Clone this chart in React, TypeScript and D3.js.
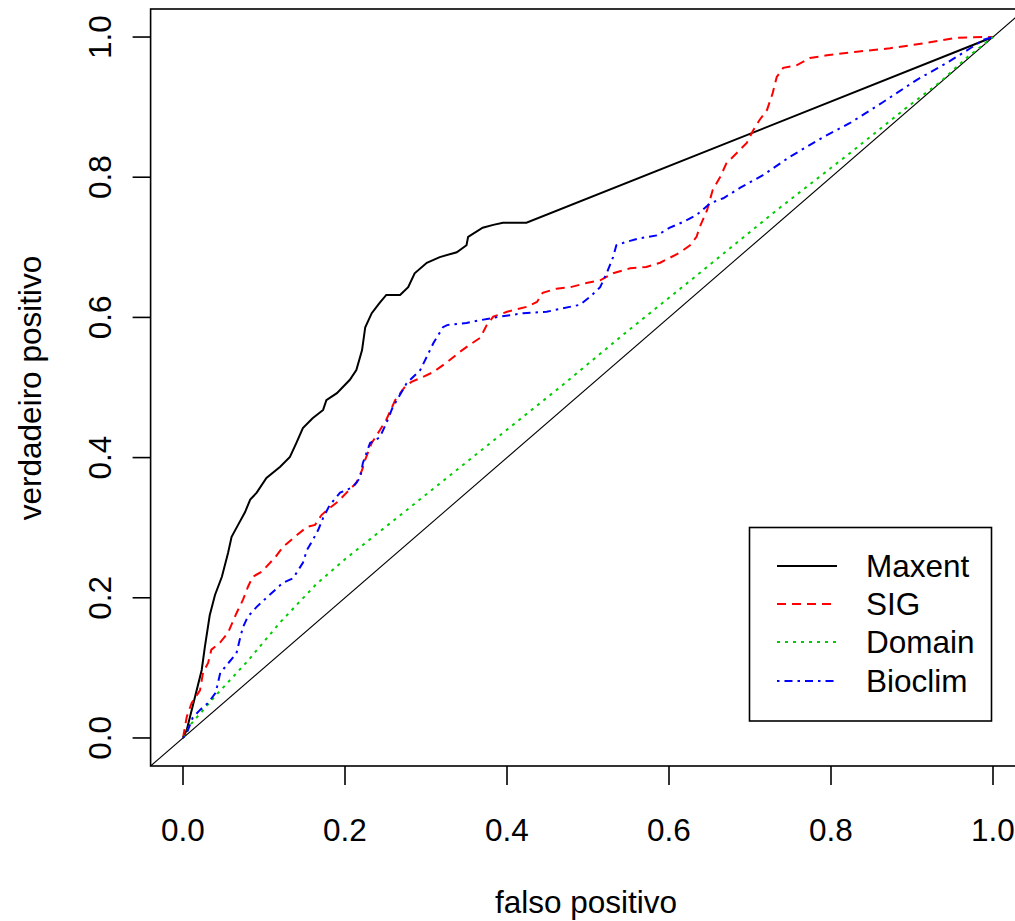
import React from "react";
import * as d3 from "d3";

const xTicks = [0, 0.2, 0.4, 0.6, 0.8, 1.0];
const yTicks = [0, 0.2, 0.4, 0.6, 0.8, 1.0];
const tickLabels = ["0.0", "0.2", "0.4", "0.6", "0.8", "1.0"];

const maxentFpr = [0, 0.0046, 0.0148, 0.0231, 0.027, 0.033, 0.0395, 0.048, 0.0556, 0.06, 0.068, 0.0765, 0.083, 0.091, 0.103, 0.12, 0.132, 0.14, 0.148, 0.16, 0.173, 0.177, 0.19, 0.206, 0.214, 0.221, 0.225, 0.233, 0.243, 0.251, 0.268, 0.278, 0.286, 0.301, 0.317, 0.338, 0.35, 0.352, 0.37, 0.383, 0.395, 0.424, 1];
const maxentTpr = [0, 0.0114, 0.0585, 0.097, 0.13, 0.175, 0.204, 0.23, 0.264, 0.287, 0.304, 0.322, 0.34, 0.35, 0.371, 0.387, 0.401, 0.421, 0.442, 0.456, 0.468, 0.482, 0.492, 0.511, 0.525, 0.553, 0.586, 0.606, 0.621, 0.632, 0.632, 0.643, 0.663, 0.678, 0.686, 0.693, 0.703, 0.715, 0.728, 0.732, 0.735, 0.735, 1];

const sigFpr = [0, 0.0046, 0.0107, 0.021, 0.0247, 0.031, 0.035, 0.0457, 0.0556, 0.066, 0.074, 0.08, 0.086, 0.097, 0.114, 0.123, 0.136, 0.153, 0.163, 0.171, 0.181, 0.191, 0.202, 0.214, 0.221, 0.225, 0.233, 0.243, 0.251, 0.262, 0.274, 0.282, 0.296, 0.309, 0.326, 0.342, 0.354, 0.367, 0.375, 0.383, 0.4, 0.424, 0.437, 0.444, 0.461, 0.478, 0.498, 0.515, 0.531, 0.552, 0.572, 0.589, 0.601, 0.614, 0.626, 0.634, 0.638, 0.647, 0.654, 0.663, 0.671, 0.684, 0.696, 0.704, 0.712, 0.721, 0.728, 0.733, 0.741, 0.758, 0.774, 0.795, 0.832, 0.873, 0.914, 0.955, 0.988, 1];
const sigTpr = [0, 0.03, 0.05, 0.068, 0.093, 0.107, 0.126, 0.136, 0.15, 0.178, 0.197, 0.215, 0.23, 0.237, 0.258, 0.272, 0.285, 0.301, 0.304, 0.318, 0.328, 0.337, 0.35, 0.364, 0.382, 0.397, 0.421, 0.439, 0.454, 0.482, 0.501, 0.508, 0.515, 0.522, 0.536, 0.551, 0.561, 0.571, 0.589, 0.601, 0.608, 0.615, 0.622, 0.635, 0.641, 0.643, 0.649, 0.653, 0.663, 0.67, 0.672, 0.678, 0.685, 0.693, 0.703, 0.715, 0.729, 0.753, 0.782, 0.8, 0.82, 0.835, 0.849, 0.867, 0.882, 0.896, 0.92, 0.943, 0.956, 0.96, 0.97, 0.974, 0.979, 0.984, 0.991, 0.999, 1.0, 1];

const domainFpr = [0, 0.01, 0.04, 0.08, 0.12, 0.165, 0.2, 0.276, 0.465, 0.543, 0.63, 0.733, 0.823, 0.893, 0.935, 0.967, 1];
const domainTpr = [0, 0.02, 0.06, 0.11, 0.165, 0.22, 0.255, 0.325, 0.5, 0.575, 0.656, 0.753, 0.834, 0.899, 0.936, 0.97, 1];

const bioclimFpr = [0, 0.006, 0.012, 0.021, 0.031, 0.04, 0.042, 0.046, 0.054, 0.066, 0.07, 0.074, 0.08, 0.091, 0.103, 0.123, 0.136, 0.148, 0.153, 0.16, 0.167, 0.173, 0.181, 0.194, 0.21, 0.219, 0.222, 0.231, 0.243, 0.251, 0.259, 0.276, 0.293, 0.301, 0.309, 0.321, 0.326, 0.35, 0.367, 0.391, 0.42, 0.449, 0.469, 0.49, 0.502, 0.515, 0.523, 0.531, 0.535, 0.548, 0.564, 0.585, 0.601, 0.617, 0.634, 0.651, 0.667, 0.688, 0.716, 0.749, 0.79, 0.823, 0.864, 0.906, 0.943, 0.972, 0.988, 1];
const bioclimTpr = [0, 0.011, 0.029, 0.04, 0.05, 0.064, 0.073, 0.093, 0.104, 0.121, 0.14, 0.158, 0.173, 0.187, 0.2, 0.221, 0.228, 0.25, 0.268, 0.282, 0.297, 0.314, 0.332, 0.35, 0.358, 0.372, 0.392, 0.421, 0.429, 0.449, 0.472, 0.506, 0.525, 0.544, 0.563, 0.586, 0.589, 0.592, 0.596, 0.601, 0.606, 0.608, 0.613, 0.618, 0.629, 0.643, 0.663, 0.686, 0.703, 0.708, 0.713, 0.717, 0.728, 0.736, 0.746, 0.763, 0.77, 0.785, 0.803, 0.829, 0.857, 0.877, 0.907, 0.939, 0.963, 0.984, 0.996, 1];

const seriesNames = ["Maxent", "SIG", "Domain", "Bioclim"];
const seriesColors = ["#000000", "#FF0000", "#00CD00", "#0000FF"];
const seriesDash = ["none", "9,6", "3,5", "2.5,5,8,5"];

const W = 1015;
const H = 921;
const FONT = "'Liberation Sans', Arial, Helvetica, sans-serif";
const FS = 31.5;

export default function App() {
  const x = d3.scaleLinear().domain([-0.04, 1.04]).range([150.6, 1025.4]);
  const y = d3.scaleLinear().domain([-0.04, 1.04]).range([766, 9]);
  const line = d3
    .line<[number, number]>()
    .x((d) => x(d[0]))
    .y((d) => y(d[1]))
    .curve(d3.curveLinear);

  const series = [
    [maxentFpr, maxentTpr],
    [sigFpr, sigTpr],
    [domainFpr, domainTpr],
    [bioclimFpr, bioclimTpr],
  ].map(([fx, fy]) => fx.map((v, i) => [v, fy[i]] as [number, number]));

  const x0 = x(-0.04);
  const x1 = x(1.04);
  const y0 = y(-0.04);
  const y1 = y(1.04);

  const legend = { left: 749.5, top: 527.5, right: 991.5, bottom: 721 };
  const legendRows = [566, 604, 642, 681];

  return (
    <svg
      width={W}
      height={H}
      style={{ position: "absolute", left: 0, top: 0, background: "#fff" }}
      fontFamily={FONT}
    >
      <defs>
        <clipPath id="plotClip">
          <rect x={x0} y={y1} width={x1 - x0} height={y0 - y1} />
        </clipPath>
      </defs>
      <rect x={0} y={0} width={W} height={H} fill="#fff" />
      <g clipPath="url(#plotClip)">
        <path
          d={line([
            [-0.04, -0.04],
            [1.04, 1.04],
          ]) || ""}
          fill="none"
          stroke="#000"
          strokeWidth={1.1}
        />
        {series.map((s, i) => (
          <path
            key={seriesNames[i]}
            d={line(s) || ""}
            fill="none"
            stroke={seriesColors[i]}
            strokeWidth={2}
            strokeDasharray={seriesDash[i]}
            strokeLinejoin="miter"
          />
        ))}
      </g>
      <rect
        x={x0}
        y={y1}
        width={x1 - x0}
        height={y0 - y1}
        fill="none"
        stroke="#000"
        strokeWidth={1.6}
      />
      {xTicks.map((t, i) => (
        <g key={"xt" + i}>
          <line x1={x(t)} x2={x(t)} y1={y0} y2={y0 + 19} stroke="#000" strokeWidth={1.6} />
          <text x={x(t)} y={841} textAnchor="middle" fontSize={FS} fill="#000">
            {tickLabels[i]}
          </text>
        </g>
      ))}
      {yTicks.map((t, i) => (
        <g key={"yt" + i}>
          <line x1={x0} x2={x0 - 18} y1={y(t)} y2={y(t)} stroke="#000" strokeWidth={1.6} />
          <text
            transform={`translate(111,${y(t)}) rotate(-90)`}
            textAnchor="middle"
            fontSize={FS}
            fill="#000"
          >
            {tickLabels[i]}
          </text>
        </g>
      ))}
      <text x={586} y={913} textAnchor="middle" fontSize={FS} fill="#000">
        falso positivo
      </text>
      <text
        transform={`translate(41,388) rotate(-90)`}
        textAnchor="middle"
        fontSize={FS}
        fill="#000"
      >
        verdadeiro positivo
      </text>
      <rect
        x={legend.left}
        y={legend.top}
        width={legend.right - legend.left}
        height={legend.bottom - legend.top}
        fill="#fff"
        stroke="#000"
        strokeWidth={1.6}
      />
      {seriesNames.map((name, i) => (
        <g key={"lg" + name}>
          <line
            x1={777}
            x2={837}
            y1={legendRows[i]}
            y2={legendRows[i]}
            stroke={seriesColors[i]}
            strokeWidth={2}
            strokeDasharray={seriesDash[i]}
          />
          <text x={866} y={legendRows[i] + 11} fontSize={FS} fill="#000">
            {name}
          </text>
        </g>
      ))}
    </svg>
  );
}
